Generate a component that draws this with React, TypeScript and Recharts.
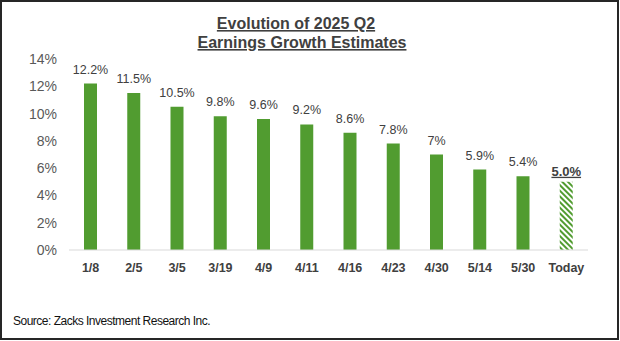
import { Bar, BarChart, Cell, LabelList, XAxis, YAxis } from "recharts";

const CATEGORIES = ["1/8", "2/5", "3/5", "3/19", "4/9", "4/11", "4/16", "4/23", "4/30", "5/14", "5/30", "Today"];
const GROWTH = [12.2, 11.5, 10.5, 9.8, 9.6, 9.2, 8.6, 7.8, 7.0, 5.9, 5.4, 5.0];
const VALUE_LABELS = ["12.2%", "11.5%", "10.5%", "9.8%", "9.6%", "9.2%", "8.6%", "7.8%", "7%", "5.9%", "5.4%", "5.0%"];
const Y_TICKS = [0, 2, 4, 6, 8, 10, 12, 14];

const TODAY_INDEX = CATEGORIES.length - 1;
const GREEN = "#519c30";
const FONT = "Arial, 'Liberation Sans', sans-serif";

const data = CATEGORIES.map((name, i) => ({ name, value: GROWTH[i] }));

function ValueLabel(props: any) {
  const { x, y, width, index } = props;
  const today = index === TODAY_INDEX;
  return (
    <text
      x={Number(x) + Number(width) / 2}
      y={Number(y) - (today ? 6 : 10)}
      textAnchor="middle"
      fontFamily={FONT}
      fontSize={today ? 13 : 12.5}
      fontWeight={today ? 700 : 400}
      textDecoration={today ? "underline" : undefined}
      fill="#404040"
    >
      {VALUE_LABELS[index]}
    </text>
  );
}

export default function App() {
  return (
    <div style={{ position: "absolute", left: 0, top: 0, width: 620, height: 341, background: "#fff" }}>
      <BarChart
        width={620}
        height={341}
        data={data}
        margin={{ top: 59, right: 32, left: 0, bottom: 61 }}
        barSize={13}
      >
        <defs>
          <pattern id="hatch" width="4" height="4" patternUnits="userSpaceOnUse" patternTransform="rotate(-45)">
            <rect width="4" height="4" fill="#ffffff" />
            <rect width="2" height="4" fill={GREEN} />
          </pattern>
        </defs>
        <XAxis
          dataKey="name"
          height={30}
          tickLine={false}
          tickSize={0}
          tickMargin={13}
          axisLine={{ stroke: "#d9d9d9" }}
          interval={0}
          tick={{ fill: "#404040", fontSize: 12.5, fontWeight: 700, fontFamily: FONT }}
        />
        <YAxis
          width={69}
          domain={[0, 14]}
          ticks={Y_TICKS}
          tickFormatter={(v: number) => `${v}%`}
          axisLine={false}
          tickLine={false}
          tickSize={0}
          tickMargin={12}
          tick={{ fill: "#595959", fontSize: 14, fontFamily: FONT }}
        />
        <Bar dataKey="value" isAnimationActive={false}>
          {data.map((d, i) => (
            <Cell key={d.name} fill={i === TODAY_INDEX ? "url(#hatch)" : GREEN} />
          ))}
          <LabelList dataKey="value" content={ValueLabel} />
        </Bar>
      </BarChart>
      <svg
        width={620}
        height={341}
        style={{ position: "absolute", left: 0, top: 0, pointerEvents: "none" }}
      >
        <text x={296} y={29} textAnchor="middle" fontFamily={FONT} fontSize={16} fontWeight={700} fill="#404040" textDecoration="underline">
          Evolution of 2025 Q2
        </text>
        <text x={302} y={48} textAnchor="middle" fontFamily={FONT} fontSize={16} fontWeight={700} fill="#404040" textDecoration="underline">
          Earnings Growth Estimates
        </text>
        <text x={13} y={325} fontFamily={FONT} fontSize={12} letterSpacing={-0.5} fill="#111">
          Source: Zacks Investment Research Inc.
        </text>
      </svg>
      <div
        style={{
          position: "absolute",
          left: 0,
          top: 0,
          width: 619,
          height: 340,
          boxSizing: "border-box",
          border: "2px solid #262626",
          pointerEvents: "none",
        }}
      />
    </div>
  );
}
